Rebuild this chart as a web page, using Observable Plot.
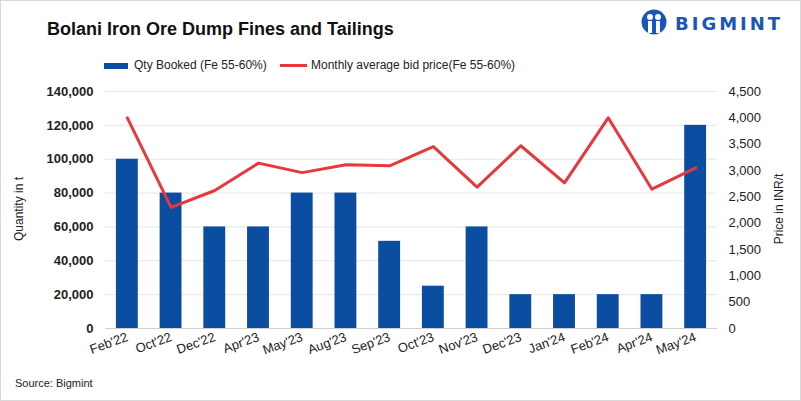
<!DOCTYPE html>
<html>
<head>
<meta charset="utf-8">
<script src="https://cdn.jsdelivr.net/npm/d3@7"></script>
<script src="https://cdn.jsdelivr.net/npm/@observablehq/plot@0.6"></script>
<style>
  html, body { margin: 0; padding: 0; background: #fff; }
  #wrap { position: relative; width: 801px; height: 401px; overflow: hidden; font-family: "Liberation Sans", Arial, sans-serif; }
  #frame { position: absolute; left: 0; top: 0; width: 799px; height: 399px; border: 1px solid #d9d9d9; pointer-events: none; }
  #chart { position: absolute; left: 0; top: 0; }
  .title { position: absolute; left: 47px; top: 19px; font-size: 18px; font-weight: bold; color: #111; letter-spacing: 0px; }
  .legend { position: absolute; top: 58px; font-size: 12px; color: #222; white-space: nowrap; }
  .sw { position: absolute; }
  .ylab { position: absolute; font-size: 12px; color: #222; white-space: nowrap; transform-origin: center; }
  .source { position: absolute; left: 15px; top: 377px; font-size: 11px; color: #222; font-family: "Liberation Sans Narrow", "Liberation Sans", sans-serif; }
  .logo { position: absolute; left: 641px; top: 9px; }
</style>
</head>
<body>
<div id="wrap">
  <div id="chart"></div>
  <div class="title">Bolani Iron Ore Dump Fines and Tailings</div>
  <div class="sw" style="left:104px;top:63px;width:24px;height:6px;background:#0a4da1"></div>
  <div class="legend" style="left:134px">Qty Booked (Fe 55-60%)</div>
  <div class="sw" style="left:280px;top:64px;width:27px;height:3px;background:#e8383b"></div>
  <div class="legend" style="left:311px">Monthly average bid price(Fe 55-60%)</div>
  <div class="ylab" style="left:-13px;top:202px;transform:rotate(-90deg)">Quantity in t</div>
  <div class="ylab" style="left:744px;top:202px;transform:rotate(-90deg)">Price in INR/t</div>
  <div class="source">Source: Bigmint</div>
  <svg class="logo" width="150" height="30" viewBox="0 0 150 30">
    <circle cx="13" cy="13" r="12.5" fill="#1a56b8"/>
    <circle cx="9" cy="8" r="3" fill="#fff"/>
    <circle cx="17" cy="8" r="3" fill="#fff"/>
    <rect x="7" y="12" width="4" height="12" fill="#fff"/>
    <rect x="15" y="12" width="4" height="12" fill="#fff"/>
    <text x="34" y="21" font-family="DejaVu Sans, sans-serif" font-weight="bold" font-size="18" letter-spacing="3" fill="#1a56b8">BIGMINT</text>
  </svg>
  <div id="frame"></div>
</div>
<script>
const months = ["Feb'22","Oct'22","Dec'22","Apr'23","May'23","Aug'23","Sep'23","Oct'23","Nov'23","Dec'23","Jan'24","Feb'24","Apr'24","May'24"];
const qty = [100000, 80000, 60000, 60000, 80000, 80000, 51500, 25000, 60000, 20000, 20000, 20000, 20000, 120000];
const price = [4000, 2300, 2620, 3140, 2960, 3110, 3090, 3455, 2685, 3470, 2765, 4000, 2645, 3050];
const leftTicks = [0, 20000, 40000, 60000, 80000, 100000, 120000, 140000];
const rightTicks = [0, 500, 1000, 1500, 2000, 2500, 3000, 3500, 4000, 4500];

const qMax = 140000, pMax = 4500;
const toQ = p => p * qMax / pMax;
const rows = months.map((m, i) => ({month: m, qty: qty[i], price: price[i], pq: toQ(price[i])}));
const fmt = d3.format(",");

const chart = Plot.plot({
  width: 801,
  height: 401,
  marginTop: 91,
  marginBottom: 73,
  marginLeft: 105,
  marginRight: 84,
  style: {fontFamily: "Liberation Sans, Arial, sans-serif", fontSize: "13px", color: "#222", background: "transparent"},
  x: {domain: months, paddingInner: 0.5, paddingOuter: 0.25, round: false, label: null},
  y: {domain: [0, qMax], label: null},
  marks: [
    Plot.gridY(leftTicks, {stroke: "#e6e6e6", strokeOpacity: 1}),
    Plot.barY(rows, {x: "month", y: "qty", fill: "#0a4da1"}),
    Plot.ruleY([0], {stroke: "#cfcfcf"}),
    Plot.line(rows, {x: "month", y: "pq", stroke: "#e8383b", strokeWidth: 3}),
    Plot.axisY(leftTicks, {anchor: "left", tickSize: 0, tickPadding: 12, tickFormat: fmt, fontWeight: "bold", fontSize: 13, label: null}),
    Plot.axisY(rightTicks.map(toQ), {anchor: "right", tickSize: 0, tickPadding: 11, tickFormat: d => fmt(Math.round(d * pMax / qMax)), fontSize: 13, label: null}),
    Plot.axisX({tickSize: 0, tickRotate: -20, tickPadding: 8, fontSize: 13, fontFamily: "Liberation Sans Narrow, Liberation Sans, sans-serif", label: null})
  ]
});
document.getElementById("chart").appendChild(chart);
</script>
</body>
</html>
